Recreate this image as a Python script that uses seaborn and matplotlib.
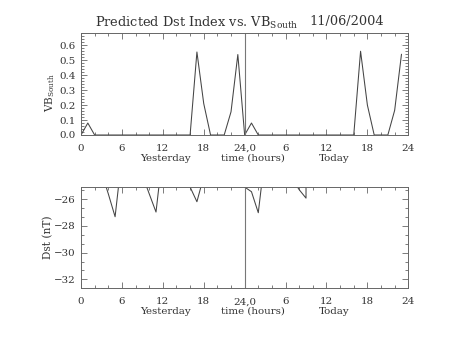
import numpy as np
import pandas as pd
import matplotlib
matplotlib.use("Agg")
import matplotlib.pyplot as plt
from matplotlib.ticker import MultipleLocator, FixedLocator
import seaborn as sns

# ---- data ----
vb_hours = list(range(0, 48))
vb_south = [0.0, 0.08, 0.0, 0, 0, 0, 0, 0, 0, 0, 0, 0, 0, 0, 0, 0,
            0.0, 0.555, 0.21, 0.0, 0.0, 0.0, 0.155, 0.538,
            0.0, 0.08, 0.0, 0, 0, 0, 0, 0, 0, 0, 0, 0, 0, 0, 0, 0,
            0.0, 0.56, 0.2, 0.0, 0.0, 0.0, 0.165, 0.54]

dst_hours = list(range(0, 34)) + [33]
dst_values = [-22.0, -22.0, -23.0, -24.0, -25.6, -27.32, -22.8, -22.0,
              -23.0, -24.2, -25.6, -26.97, -22.5, -22.0, -23.0, -24.0,
              -25.1, -26.2, -24.3, -23.0, -22.0, -22.0, -23.0, -24.0,
              -25.1, -25.45, -27.02, -22.7, -22.0, -22.0, -23.0, -24.5,
              -25.3, -25.93, -22.0]

xtick_pos = [0, 6, 12, 18, 24, 30, 36, 42, 48]
xtick_labels = ["0", "6", "12", "18", "24,0", "6", "12", "18", "24"]
title_main = "Predicted Dst Index vs. VB$_{\\rm South}$"
title_date = "11/06/2004"

# ---- style ----
sns.set_style("ticks")
plt.rcParams['font.family'] = ['DejaVu Serif']
plt.rcParams['mathtext.fontset'] = 'dejavuserif'
TXT = "#333333"
LINE = "#444444"
SPINE = "#666666"

W, H = 453, 340
fig = plt.figure(figsize=(W / 100, H / 100), dpi=100)
fig.patch.set_facecolor("white")

def pix_axes(left, top, right, bottom):
    return fig.add_axes([left / W, 1 - bottom / H, (right - left) / W, (bottom - top) / H])

ax1 = pix_axes(81, 33.3, 408.3, 135)
ax2 = pix_axes(81, 187.3, 408.3, 288.3)

df1 = pd.DataFrame({"hour": vb_hours, "vb": vb_south})
df2 = pd.DataFrame({"hour": dst_hours, "dst": dst_values})

sns.lineplot(data=df1, x="hour", y="vb", ax=ax1, color=LINE, linewidth=0.75,
             estimator=None, sort=False)
sns.lineplot(data=df2, x="hour", y="dst", ax=ax2, color=LINE, linewidth=0.75,
             estimator=None, sort=False)

for ax in (ax1, ax2):
    ax.axvline(24, color="#777777", linewidth=0.8)
    ax.set_xlim(0, 48)
    ax.xaxis.set_major_locator(FixedLocator(xtick_pos))
    ax.set_xticklabels(xtick_labels)
    ax.xaxis.set_minor_locator(MultipleLocator(2))
    ax.tick_params(which="both", direction="in", top=True, right=True,
                   colors=SPINE, labelcolor=TXT, labelsize=7.4, width=0.6)
    ax.tick_params(which="major", length=4)
    ax.tick_params(which="minor", length=2.5)
    ax.tick_params(axis="x", pad=6.5)
    ax.tick_params(axis="y", pad=4)
    for s in ax.spines.values():
        s.set_color(SPINE)
        s.set_linewidth(0.7)
    ax.set_xlabel("")
    ax.set_ylabel("")

ax1.set_ylim(0, 0.68)
ax1.yaxis.set_major_locator(MultipleLocator(0.1))
ax1.yaxis.set_minor_locator(MultipleLocator(0.02))
ax1.set_yticklabels([f"{v:.1f}" for v in ax1.get_yticks()])

ax2.set_ylim(-32.67, -25.12)
ax2.yaxis.set_major_locator(FixedLocator([-32, -30, -28, -26]))
ax2.set_yticklabels(["\u221232", "\u221230", "\u221228", "\u221226"])
ax2.yaxis.set_minor_locator(FixedLocator(list(np.arange(-32.0, -25.0, 2 / 3))))

def ftext(x, y, s, **kw):
    fig.text(x / W, 1 - y / H, s, color=TXT, **kw)

# title
ftext(196.5, 23, title_main, fontsize=9.3, ha="center", va="center")
ftext(346.5, 21, title_date, fontsize=9.3, ha="center", va="center")

# axis labels (common baseline)
for yy in (161, 313.5):
    ftext(165.5, yy, "Yesterday", fontsize=7.4, ha="center", va="baseline")
    ftext(253, yy, "time (hours)", fontsize=7.4, ha="center", va="baseline")
    ftext(334, yy, "Today", fontsize=7.4, ha="center", va="baseline")

ftext(50, 92, "VB$_{\\rm South}$", fontsize=7.6, ha="center", va="center", rotation=90)
ftext(48, 237, "Dst (nT)", fontsize=7.6, ha="center", va="center", rotation=90)

fig.savefig("out.png", dpi=100, facecolor="white")
